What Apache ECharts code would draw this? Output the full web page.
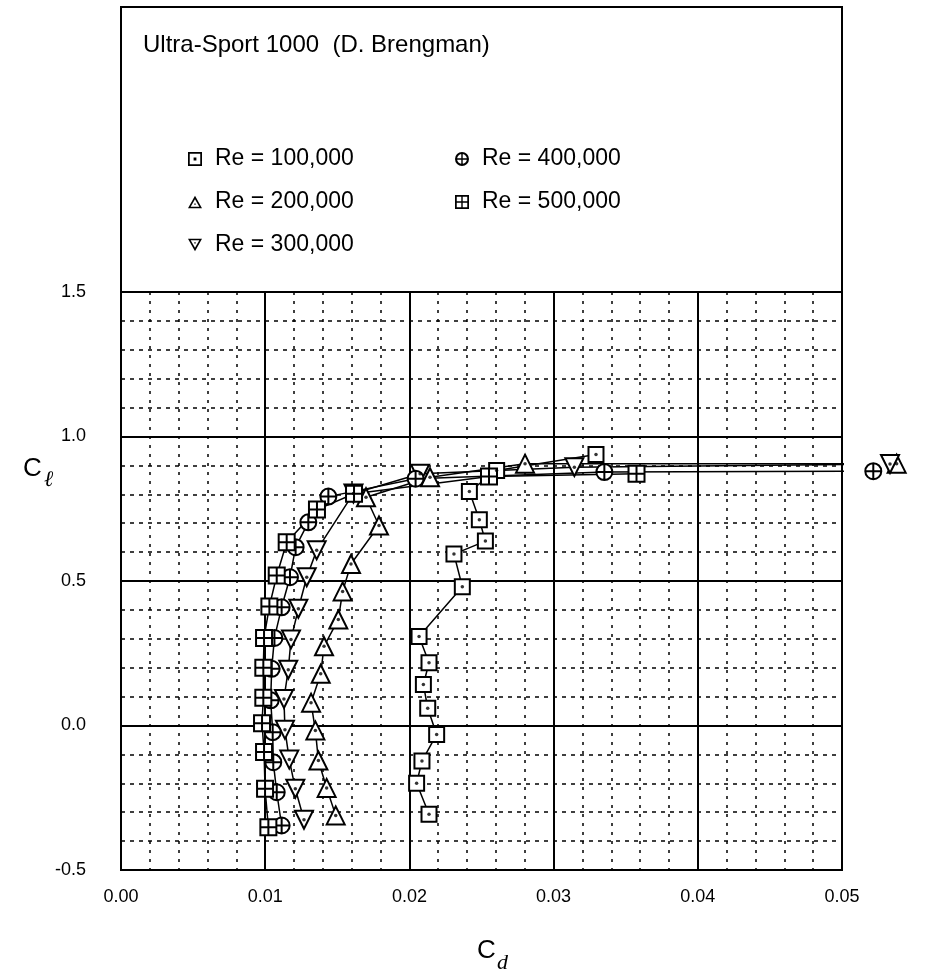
<!DOCTYPE html>
<html>
<head>
<meta charset="utf-8">
<script src="https://cdn.jsdelivr.net/npm/echarts@6/dist/echarts.min.js"></script>
</head>
<body style="margin:0;background:#fff">
<div id="main" style="width:926px;height:976px;"></div>
<script>
// drag polar, [cd, cl] pairs
var re100 = [[0.02136,-0.307],[0.02050,-0.200],[0.02087,-0.123],[0.02189,-0.031],[0.02127,0.060],
  [0.02097,0.142],[0.02136,0.217],[0.02067,0.308],[0.02367,0.480],[0.02309,0.593],[0.02527,0.638],
  [0.02485,0.712],[0.02416,0.810],[0.02605,0.882],[0.03294,0.938]];
var re200 = [[0.01489,-0.311],[0.01426,-0.216],[0.01369,-0.121],[0.01348,-0.017],[0.01318,0.079],
  [0.01385,0.179],[0.01408,0.274],[0.01507,0.367],[0.01537,0.464],[0.01595,0.559],[0.01789,0.692],
  [0.01699,0.790],[0.02143,0.859],[0.02802,0.906],[0.05379,0.906],[0.0600,0.912]];
var re300 = [[0.01269,-0.326],[0.01209,-0.219],[0.01167,-0.118],[0.01137,-0.015],[0.01130,0.092],
  [0.01160,0.193],[0.01179,0.298],[0.01230,0.404],[0.01288,0.513],[0.01357,0.606],[0.01612,0.803],
  [0.02074,0.871],[0.03144,0.894],[0.05333,0.905]];
var re400 = [[0.01114,-0.346],[0.01080,-0.231],[0.01056,-0.127],[0.01052,-0.023],[0.01038,0.087],
  [0.01045,0.196],[0.01064,0.303],[0.01114,0.409],[0.01172,0.513],[0.01211,0.617],[0.01299,0.703],
  [0.01438,0.792],[0.02043,0.854],[0.03352,0.877],[0.05217,0.880]];
var re500 = [[0.01022,-0.352],[0.00999,-0.219],[0.00992,-0.092],[0.00978,0.008],[0.00987,0.096],
  [0.00987,0.200],[0.00992,0.303],[0.01029,0.412],[0.01080,0.519],[0.01149,0.634],[0.01359,0.747],
  [0.01616,0.802],[0.02552,0.862],[0.03575,0.871]];

var names = ['Re = 100,000', 'Re = 200,000', 'Re = 300,000', 'Re = 400,000', 'Re = 500,000'];
var xLabels = ['0.00', '0.01', '0.02', '0.03', '0.04', '0.05'];
var yLabels = ['-0.5', '0.0', '0.5', '1.0', '1.5'];

var FONT = 'Liberation Sans';

// marker shapes on the plot (white fill, black outline)
var circlePlus = 'path://M-10,0 A10,10 0 1,1 10,0 A10,10 0 1,1 -10,0 Z M0,-10 L0,10 M-10,0 L10,0';
var squarePlus = 'path://M-10,-10 L10,-10 L10,10 L-10,10 Z M0,-10 L0,10 M-10,0 L10,0';

// legend icons: hollow outlines built as filled rings (opposite winding)
var icoSquareDot = 'path://M0,0 L20,0 L20,20 L0,20 Z M2.5,2.5 L2.5,17.5 L17.5,17.5 L17.5,2.5 Z M8,8 L12,8 L12,12 L8,12 Z';
var icoTriUp = 'path://M10,0 L20,18 L0,18 Z M10,5 L3.8,15.8 L16.2,15.8 Z M9,11 L11,11 L11,13 L9,13 Z';
var icoTriDown = 'path://M0,0 L20,0 L10,18 Z M3.8,2.2 L10,13 L16.2,2.2 Z M9,5 L11,5 L11,7 L9,7 Z';
var icoCirclePlus = 'path://M0,10 A10,10 0 1,1 20,10 A10,10 0 1,1 0,10 Z M3,10 A7,7 0 1,0 17,10 A7,7 0 1,0 3,10 Z M9,1 L11,1 L11,19 L9,19 Z M1,9 L19,9 L19,11 L1,11 Z';
var icoSquarePlus = 'path://M0,0 L20,0 L20,20 L0,20 Z M2.5,2.5 L2.5,17.5 L17.5,17.5 L17.5,2.5 Z M9,1 L11,1 L11,19 L9,19 Z M1,9 L19,9 L19,11 L1,11 Z';

function mk(name, data, symbol, size, rotate) {
  return {
    name: name, type: 'line', data: data,
    symbol: symbol, symbolSize: size, symbolRotate: rotate || 0,
    clip: false, animation: false,
    itemStyle: { color: '#fff', borderColor: '#000', borderWidth: 2 },
    lineStyle: { color: '#000', width: 1.5 },
    emphasis: { disabled: true }
  };
}

var dots = [].concat(re100, re200, re300);

var legendText = { fontFamily: FONT, fontSize: 23, color: '#000', lineHeight: 26, padding: [0, 0, 0, 8] };
function legItem(i, icon) {
  return { name: names[i], icon: icon, itemStyle: { color: '#000', borderWidth: 0 } };
}

var chart = echarts.init(document.getElementById('main'));
chart.setOption({
  animation: false,
  backgroundColor: '#fff',
  grid: { left: 121, top: 292, width: 721, height: 578, show: true, borderColor: '#000', borderWidth: 2 },
  xAxis: {
    type: 'value', min: 0, max: 0.05, interval: 0.01,
    axisLine: { show: true, lineStyle: { color: '#000', width: 2 } },
    axisTick: { show: false },
    axisLabel: { margin: 18, color: '#000', fontFamily: FONT, fontSize: 18,
      formatter: function (v) { return xLabels[Math.round(v / 0.01)]; } },
    splitLine: { show: true, lineStyle: { color: '#000', width: 2 } },
    minorTick: { show: false, splitNumber: 5 },
    minorSplitLine: { show: true, lineStyle: { color: '#000', width: 1.5, type: [3, 6] } }
  },
  yAxis: {
    type: 'value', min: -0.5, max: 1.5, interval: 0.5,
    axisLine: { show: true, lineStyle: { color: '#000', width: 2 } },
    axisTick: { show: false },
    axisLabel: { margin: 35, color: '#000', fontFamily: FONT, fontSize: 18,
      formatter: function (v) { return yLabels[Math.round((v + 0.5) / 0.5)]; } },
    splitLine: { show: true, lineStyle: { color: '#000', width: 2 } },
    minorTick: { show: false, splitNumber: 5 },
    minorSplitLine: { show: true, lineStyle: { color: '#000', width: 1.5, type: [4, 5] } }
  },
  legend: [
    { orient: 'vertical', left: 183, top: 141, itemWidth: 14, itemHeight: 14, itemGap: 17,
      selectedMode: false, textStyle: legendText,
      data: [legItem(0, icoSquareDot), legItem(1, icoTriUp), legItem(2, icoTriDown)] },
    { orient: 'vertical', left: 450, top: 141, itemWidth: 14, itemHeight: 14, itemGap: 17,
      selectedMode: false, textStyle: legendText,
      data: [legItem(3, icoCirclePlus), legItem(4, icoSquarePlus)] }
  ],
  graphic: [
    { type: 'rect', shape: { x: 121, y: 7, width: 721, height: 285 },
      style: { fill: 'none', stroke: '#000', lineWidth: 2 }, silent: true },
    { type: 'text', left: 143, top: 33,
      style: { text: 'Ultra-Sport 1000  (D. Brengman)', fontFamily: FONT, fontSize: 24, fill: '#000' } },
    { type: 'text', left: 23, top: 456,
      style: { text: 'C', fontFamily: FONT, fontSize: 26, fill: '#000' } },
    { type: 'text', left: 44, top: 469,
      style: { text: 'ℓ', fontFamily: 'Liberation Serif', fontStyle: 'italic', fontSize: 22, fill: '#000' } },
    { type: 'text', left: 477, top: 938,
      style: { text: 'C', fontFamily: FONT, fontSize: 26, fill: '#000' } },
    { type: 'text', left: 497, top: 952,
      style: { text: 'd', fontFamily: 'Liberation Serif', fontStyle: 'italic', fontSize: 22, fill: '#000' } }
  ],
  series: [
    mk(names[0], re100, 'rect', 15),
    mk(names[1], re200, 'triangle', 18),
    mk(names[2], re300, 'triangle', 18, 180),
    mk(names[3], re400, circlePlus, 16),
    mk(names[4], re500, squarePlus, 16),
    { name: 'dots', type: 'scatter', data: dots, symbol: 'circle', symbolSize: 3.5,
      itemStyle: { color: '#000' }, z: 5, silent: true, clip: false, animation: false,
      emphasis: { disabled: true } }
  ]
});
</script>
</body>
</html>
